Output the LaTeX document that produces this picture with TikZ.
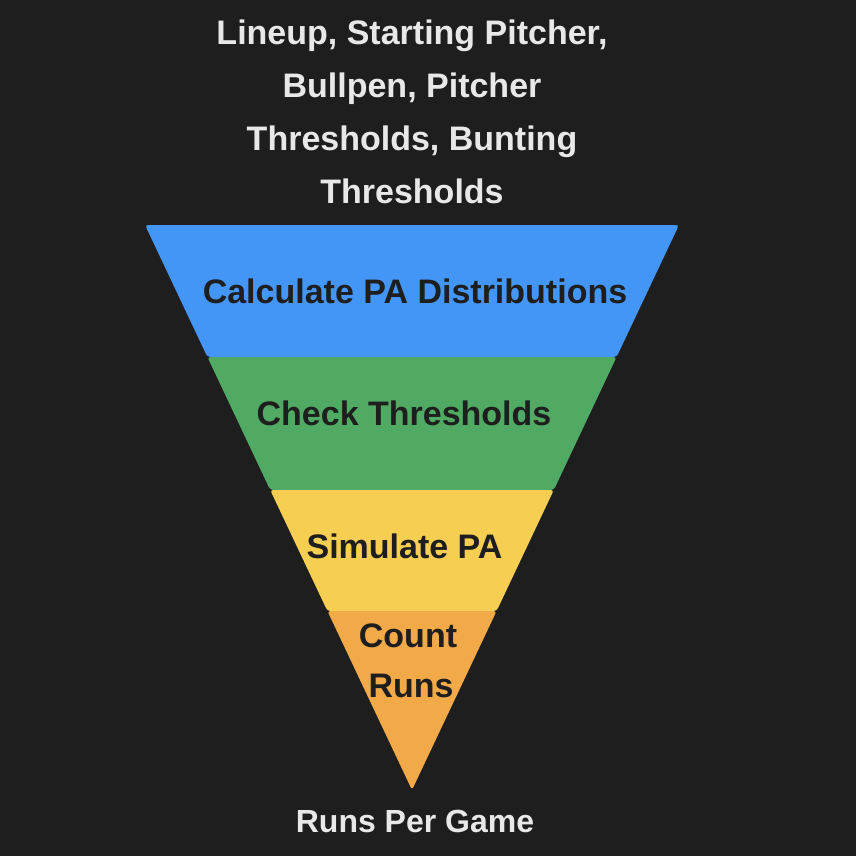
\documentclass[tikz,border=0pt]{standalone}
\usepackage{fontspec}
\setmainfont{Liberation Sans}
\definecolor{bg}{HTML}{1E1E1E}
\definecolor{fblue}{HTML}{4396F6}
\definecolor{fgreen}{HTML}{50AA64}
\definecolor{fyellow}{HTML}{F6CF52}
\definecolor{forange}{HTML}{F2AA48}
\definecolor{lighttext}{HTML}{E8E8E8}
\begin{document}
\begin{tikzpicture}[x=1pt,y=-1pt,
  band/.style={rounded corners=3pt},
  darklabel/.style={text=bg,font=\bfseries\fontsize{34}{40}\selectfont,inner sep=0pt,anchor=base,align=center},
  lightlabel/.style={text=lighttext,font=\bfseries\fontsize{34}{52.7}\selectfont,inner sep=0pt,anchor=base,align=center}]
\fill[bg] (0,0) rectangle (856,856);
\useasboundingbox (0,0) rectangle (856,856);
% funnel bands
\fill[fblue,band] (145,225) -- (679,225) -- (616.6,357) -- (207.4,357) -- cycle;
\fill[fgreen,band] (207.4,357) -- (616.6,357) -- (553.8,490) -- (270.2,490) -- cycle;
\fill[fyellow,band] (270.2,490) -- (553.8,490) -- (496.6,611) -- (327.4,611) -- cycle;
\fill[forange,band] (327.4,611) -- (496.6,611) -- (412,790) -- cycle;
% labels
\node[lightlabel] (inputs) at (412,203) {Lineup, Starting Pitcher,\\Bullpen, Pitcher\\Thresholds, Bunting\\Thresholds};
\node[darklabel] (calc) at (415,303) {Calculate PA Distributions};
\node[darklabel] (check) at (404,425) {Check Thresholds};
\node[darklabel] (sim) at (404.5,558) {Simulate PA};
\node[darklabel] (count) at (408,647) {Count};
\node[darklabel] (runs) at (411,697) {Runs};
\node[lightlabel,font=\bfseries\fontsize{32}{40}\selectfont] (out) at (415,832) {Runs Per Game};
\end{tikzpicture}
\end{document}
